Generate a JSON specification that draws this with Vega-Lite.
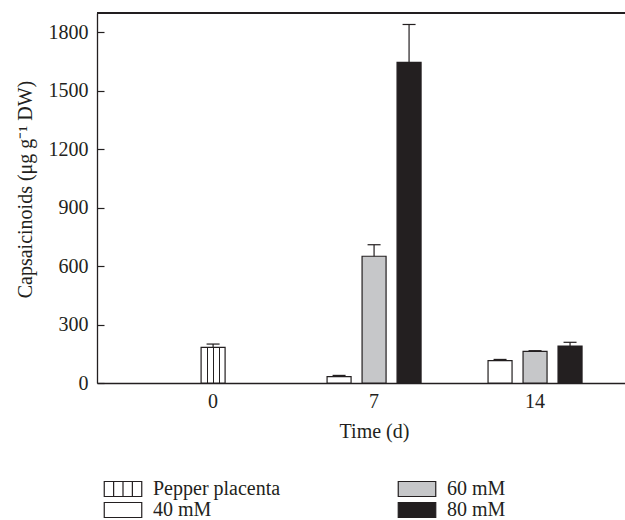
{
  "$schema": "https://vega.github.io/schema/vega-lite/v6.json",
  "autosize": {"type": "none"},
  "padding": {"left": 97, "top": 13, "right": 0, "bottom": 137},
  "width": 528,
  "height": 370,
  "config": {
    "view": {"stroke": null},
    "font": "Liberation Serif",
    "axis": {
      "labelFont": "Liberation Serif",
      "titleFont": "Liberation Serif",
      "labelFontSize": 20,
      "titleFontSize": 20,
      "titleFontWeight": "normal",
      "labelColor": "#231f20",
      "titleColor": "#231f20",
      "domainColor": "#231f20",
      "domainWidth": 1.3,
      "tickColor": "#231f20",
      "tickWidth": 1.2,
      "grid": false
    },
    "legend": {
      "labelFont": "Liberation Serif",
      "labelFontSize": 20,
      "labelColor": "#231f20"
    }
  },
  "data": {
    "values": [
      {"time": 0, "treatment": "Pepper placenta", "value": 183, "upper": 200},
      {"time": 7, "treatment": "40 mM", "value": 33, "upper": 39},
      {"time": 7, "treatment": "60 mM", "value": 651, "upper": 710},
      {"time": 7, "treatment": "80 mM", "value": 1646, "upper": 1841},
      {"time": 14, "treatment": "40 mM", "value": 115, "upper": 121},
      {"time": 14, "treatment": "60 mM", "value": 162, "upper": 166},
      {"time": 14, "treatment": "80 mM", "value": 190, "upper": 209}
    ]
  },
  "encoding": {
    "x": {
      "field": "time",
      "type": "ordinal",
      "scale": {"domain": [0, 7, 14], "paddingInner": 0, "paddingOuter": 0.14, "align": 0.79},
      "axis": {
        "title": "Time (d)",
        "ticks": false,
        "labelAngle": 0,
        "labelPadding": 8,
        "titlePadding": 10,
        "titleX": 277
      }
    },
    "y": {
      "type": "quantitative",
      "scale": {"domain": [0, 1900], "nice": false, "zero": true},
      "axis": {
        "title": "Capsaicinoids (μg g⁻¹ DW)",
        "values": [0, 300, 600, 900, 1200, 1500, 1800],
        "format": "d",
        "tickSize": -7,
        "labelPadding": 16,
        "titleX": -72,
        "titleY": 176,
        "titleBaseline": "middle"
      }
    }
  },
  "layer": [
    {
      "mark": {"type": "rule", "color": "#231f20", "strokeWidth": 1.3},
      "encoding": {"y": {"datum": 1900}, "x": null}
    },
    {
      "transform": [{"filter": "datum.treatment === 'Pepper placenta'"}],
      "mark": {
        "type": "bar",
        "width": 24,
        "stroke": "#231f20",
        "strokeWidth": 1.2,
        "fill": {
          "gradient": "linear",
          "x1": 0, "y1": 0, "x2": 1, "y2": 0,
          "stops": [
            {"offset": 0, "color": "#ffffff"},
            {"offset": 0.23, "color": "#ffffff"},
            {"offset": 0.23, "color": "#231f20"},
            {"offset": 0.27, "color": "#231f20"},
            {"offset": 0.27, "color": "#ffffff"},
            {"offset": 0.48, "color": "#ffffff"},
            {"offset": 0.48, "color": "#231f20"},
            {"offset": 0.52, "color": "#231f20"},
            {"offset": 0.52, "color": "#ffffff"},
            {"offset": 0.73, "color": "#ffffff"},
            {"offset": 0.73, "color": "#231f20"},
            {"offset": 0.77, "color": "#231f20"},
            {"offset": 0.77, "color": "#ffffff"},
            {"offset": 1, "color": "#ffffff"}
          ]
        }
      },
      "encoding": {"y": {"field": "value", "type": "quantitative"}}
    },
    {
      "transform": [{"filter": "datum.treatment === 'Pepper placenta'"}],
      "mark": {"type": "rule", "color": "#231f20", "strokeWidth": 1.2},
      "encoding": {
        "y": {"field": "value", "type": "quantitative"},
        "y2": {"field": "upper"}
      }
    },
    {
      "transform": [{"filter": "datum.treatment === 'Pepper placenta'"}],
      "mark": {"type": "tick", "color": "#231f20", "size": 13, "thickness": 1.2, "opacity": 1},
      "encoding": {"y": {"field": "upper", "type": "quantitative"}}
    },
    {
      "transform": [{"filter": "datum.treatment !== 'Pepper placenta'"}],
      "mark": {"type": "bar", "stroke": "#231f20", "strokeWidth": 1.2, "opacity": 1},
      "encoding": {
        "y": {"field": "value", "type": "quantitative"},
        "xOffset": {
          "field": "treatment",
          "type": "nominal",
          "scale": {"domain": ["40 mM", "60 mM", "80 mM"], "paddingInner": 0.314, "paddingOuter": 0.957}
        },
        "fill": {
          "field": "treatment",
          "type": "nominal",
          "scale": {
            "domain": ["Pepper placenta", "40 mM", "60 mM", "80 mM"],
            "range": ["#ffffff", "#ffffff", "#c6c7c9", "#231f20"]
          },
          "legend": {
            "orient": "none",
            "title": null,
            "columns": 2,
            "legendX": 16,
            "legendY": 466,
            "padding": 0,
            "symbolSize": 225,
            "symbolType": "M-2.5,-1H2.5V1H-2.5Z",
            "symbolStrokeColor": "#231f20",
            "symbolStrokeWidth": 1.2,
            "symbolOpacity": 1,
            "labelOffset": 20,
            "columnPadding": 114,
            "rowPadding": 1,
            "encode": {
              "symbols": {
                "update": {
                  "shape": {"signal": "datum.value === 'Pepper placenta' ? 'M-2.5,-1H2.5V1H-2.5Z M-1.25,-1V1 M0,-1V1 M1.25,-1V1' : 'M-2.5,-1H2.5V1H-2.5Z'"},
                  "stroke": {"value": "#231f20"},
                  "strokeWidth": {"value": 1.2}
                }
              }
            }
          }
        }
      }
    },
    {
      "transform": [{"filter": "datum.treatment !== 'Pepper placenta'"}],
      "mark": {"type": "rule", "color": "#231f20", "strokeWidth": 1.2},
      "encoding": {
        "y": {"field": "value", "type": "quantitative"},
        "y2": {"field": "upper"},
        "xOffset": {"field": "treatment", "type": "nominal"}
      }
    },
    {
      "transform": [{"filter": "datum.treatment !== 'Pepper placenta'"}],
      "mark": {"type": "tick", "color": "#231f20", "size": 13, "thickness": 1.2, "opacity": 1},
      "encoding": {
        "y": {"field": "upper", "type": "quantitative"},
        "xOffset": {"field": "treatment", "type": "nominal"}
      }
    }
  ]
}
